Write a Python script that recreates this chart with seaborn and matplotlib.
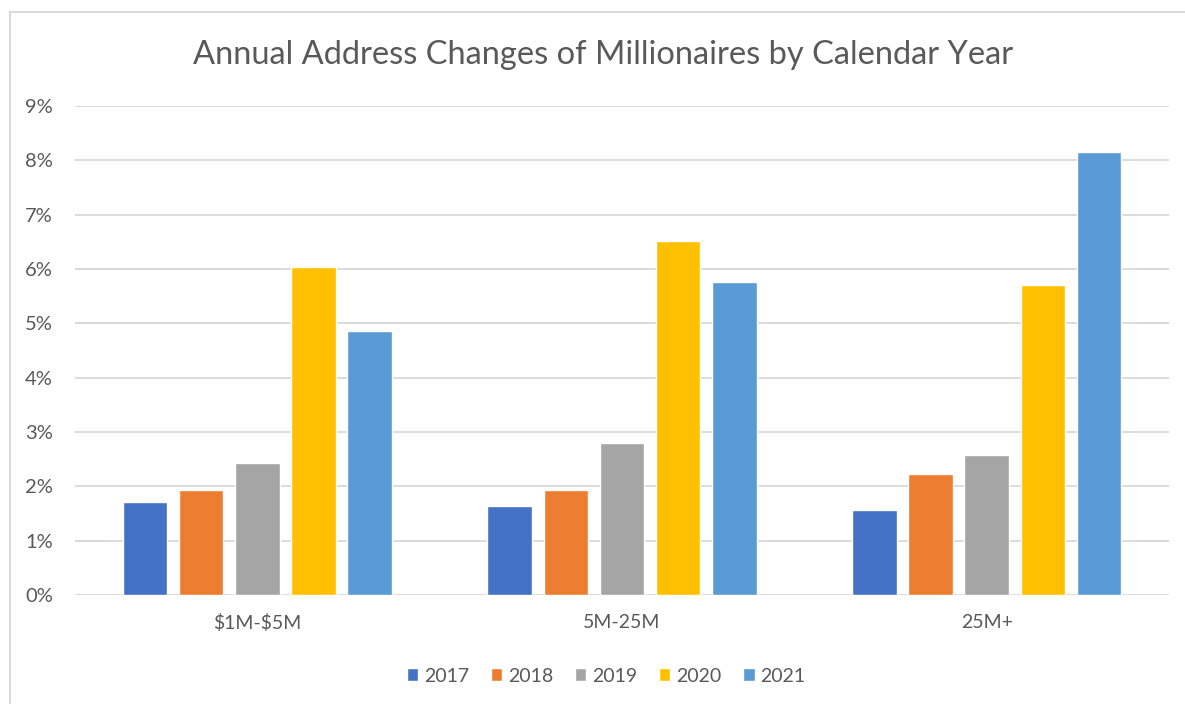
import matplotlib
matplotlib.use("Agg")
import matplotlib.pyplot as plt
from matplotlib.patches import Rectangle
from matplotlib.ticker import PercentFormatter
import seaborn as sns
import pandas as pd

categories = ["$1M-$5M", "5M-25M", "25M+"]
years = ["2017", "2018", "2019", "2020", "2021"]
values_2017 = [1.72, 1.63, 1.57]
values_2018 = [1.94, 1.94, 2.23]
values_2019 = [2.43, 2.80, 2.57]
values_2020 = [6.03, 6.52, 5.70]
values_2021 = [4.86, 5.76, 8.15]
series = [values_2017, values_2018, values_2019, values_2020, values_2021]
colors = ["#4472C4", "#ED7D31", "#A5A5A5", "#FFC000", "#5B9BD5"]

rows = []
for yr, vals in zip(years, series):
    for cat, v in zip(categories, vals):
        rows.append({"category": cat, "year": yr, "value": v})
df = pd.DataFrame(rows)

sns.set_theme(style="white")
plt.rcParams['font.family'] = ['Lato', 'DejaVu Sans']
plt.rcParams['text.parse_math'] = False
text_color = "#595959"
grid_color = "#D9D9D9"

fig = plt.figure(figsize=(11.85, 7.04), dpi=100)
ax = fig.add_axes([75/1185, 1-595/704, (1169-75)/1185, (595-106)/704])

sns.barplot(data=df, x="category", y="value", hue="year", order=categories,
            hue_order=years, palette=colors, width=0.77, gap=0.21,
            saturation=1, ax=ax, legend=True, errorbar=None)

ax.set_ylim(0, 9)
ax.set_yticks(range(0, 10))
ax.yaxis.set_major_formatter(PercentFormatter(decimals=0))
ax.set_xlim(-0.5, 2.5)
ax.grid(axis="y", color=grid_color, linewidth=1.3)
ax.set_axisbelow(True)
for s in ax.spines.values():
    s.set_visible(False)
ax.tick_params(axis="both", length=0, labelcolor=text_color)
ax.tick_params(axis="y", pad=16, labelsize=14.5)
ax.tick_params(axis="x", pad=14, labelsize=14)
ax.set_xlabel("")
ax.set_ylabel("")

handles, labels = ax.get_legend_handles_labels()
ax.legend_.remove()
fig.legend(handles, labels, loc="center", bbox_to_anchor=(606/1185, 1-676/704),
           ncol=5, frameon=False, fontsize=14, labelcolor=text_color,
           handlelength=0.6, handleheight=0.6, handletextpad=0.3,
           columnspacing=1.1)

fig.text(603/1185, 1-55/704, "Annual Address Changes of Millionaires by Calendar Year",
         ha="center", va="center", fontsize=23.5, color=text_color)

fig.add_artist(Rectangle((10/1185, -0.1), 1.2, 1 - 12/704 + 0.1,
                         transform=fig.transFigure, fill=False,
                         edgecolor=grid_color, linewidth=1.5))

fig.savefig("out.png", dpi=100)
